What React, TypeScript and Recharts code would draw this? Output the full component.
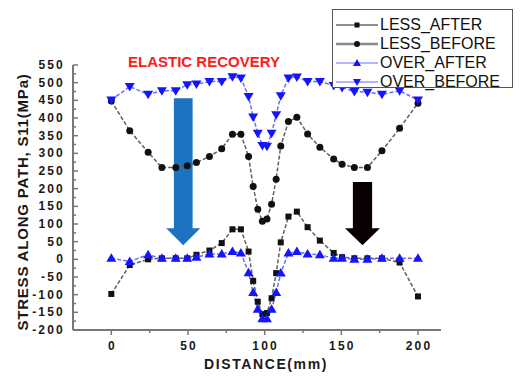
import React from 'react';
import { LineChart, Line, XAxis, YAxis, ReferenceArea } from 'recharts';

// distance along the path (mm)
const distance = [
  0, 12, 24, 33, 42, 49.5, 55.5, 64, 72, 79, 84.5, 89.5, 92.5, 95.5, 98.5,
  101.5, 104.5, 107.5, 110.5, 115.5, 121, 128, 136, 145, 150.5, 158.5, 167, 176.5, 188, 200,
];
const lessAfter = [
  -98, -16, 0, 3, 3, 3, 13, 25, 46, 85, 85, 22, -61, -120, -155,
  -152, -110, -39, 48, 121, 135, 91, 53, 18, 6, 3, 3, 3, -9, -105,
];
const lessBefore = [
  448, 364, 303, 260, 260, 265, 274, 291, 313, 354, 354, 291, 206, 142, 108,
  114, 156, 227, 321, 390, 402, 355, 317, 284, 269, 260, 260, 307, 371, 442,
];
const overAfter = [
  3, -6, 13, 3, 3, 3, 6, 15, 15, 22, 18, -38, -94, -141, -168,
  -168, -141, -94, -39, 18, 22, 15, 13, 3, 3, 0, 0, 3, 3, 3,
];
const overBefore = [
  451, 489, 467, 477, 477, 494, 496, 503, 503, 517, 513, 461, 403, 357, 322,
  320, 357, 409, 463, 513, 516, 503, 503, 492, 486, 475, 473, 467, 477, 451,
];

const xTicks = [0, 25, 50, 75, 100, 125, 150, 175, 200];
const yTicks = [
  -200, -175, -150, -125, -100, -75, -50, -25, 0, 25, 50, 75, 100, 125, 150, 175,
  200, 225, 250, 275, 300, 325, 350, 375, 400, 425, 450, 475, 500, 525, 550,
];

const data = distance.map((d, i) => ({
  distance: d,
  lessAfter: lessAfter[i],
  lessBefore: lessBefore[i],
  overAfter: overAfter[i],
  overBefore: overBefore[i],
}));

const axisColor = '#777';
const labelColor = '#1a1a1a';
const blue = '#1414ff';
const blueLine = '#6a6aff';
const font = 'Arial, "Liberation Sans", sans-serif';

const YTick = (props: any) => {
  const { x, y, payload } = props;
  const major = payload.value % 50 === 0;
  return (
    <g>
      <line x1={x} x2={x + (major ? 5 : 3)} y1={y} y2={y} stroke={axisColor} strokeWidth={1.5} />
      {major && (
        <text x={x - 8} y={y + 4} textAnchor="end" fontSize={12} fontWeight="bold"
          letterSpacing={2.2} fill={labelColor} fontFamily={font}>
          {payload.value}
        </text>
      )}
    </g>
  );
};

const XTick = (props: any) => {
  const { x, y, payload } = props;
  const major = payload.value % 50 === 0;
  return (
    <g>
      <line x1={x} x2={x} y1={y} y2={y + (major ? 5 : 3)} stroke={axisColor} strokeWidth={1.5} />
      {major && (
        <text x={x + 1} y={y + 20} textAnchor="middle" fontSize={12} fontWeight="bold"
          letterSpacing={2.2} fill={labelColor} fontFamily={font}>
          {payload.value}
        </text>
      )}
    </g>
  );
};

const SquareDot = (props: any) => {
  const { cx, cy } = props;
  if (cx == null || cy == null) return <g />;
  return <rect x={cx - 3} y={cy - 3} width={6} height={6} fill="#111" />;
};
const CircleDot = (props: any) => {
  const { cx, cy } = props;
  if (cx == null || cy == null) return <g />;
  return <circle cx={cx} cy={cy} r={3.5} fill="#111" />;
};
const UpDot = (props: any) => {
  const { cx, cy } = props;
  if (cx == null || cy == null) return <g />;
  return <polygon points={`${cx},${cy - 5} ${cx + 5},${cy + 3.5} ${cx - 5},${cy + 3.5}`} fill={blue} />;
};
const DownDot = (props: any) => {
  const { cx, cy } = props;
  if (cx == null || cy == null) return <g />;
  return <polygon points={`${cx},${cy + 5} ${cx + 5},${cy - 3.5} ${cx - 5},${cy - 3.5}`} fill={blue} />;
};

const arrowShape = (color: string) => (props: any) => {
  const { x, y, width, height } = props;
  if (x == null) return <g />;
  const head = 17;
  const shaft = width * 0.55;
  const cx = x + width / 2;
  const pts = [
    [cx - shaft / 2, y],
    [cx + shaft / 2, y],
    [cx + shaft / 2, y + height - head],
    [x + width, y + height - head],
    [cx, y + height],
    [x, y + height - head],
    [cx - shaft / 2, y + height - head],
  ]
    .map((p) => p.join(','))
    .join(' ');
  return <polygon points={pts} fill={color} />;
};

const legendItems = [
  { name: 'LESS_AFTER', color: '#222', width: 1, mark: 'square' },
  { name: 'LESS_BEFORE', color: '#888', width: 2.5, mark: 'circle' },
  { name: 'OVER_AFTER', color: blueLine, width: 1, mark: 'up' },
  { name: 'OVER_BEFORE', color: blueLine, width: 1, mark: 'down' },
];

const LegendMark = ({ mark }: { mark: string }) => {
  const cx = 22;
  const cy = 9;
  if (mark === 'square') return <rect x={cx - 2.5} y={cy - 2.5} width={5} height={5} fill="#111" />;
  if (mark === 'circle') return <circle cx={cx} cy={cy} r={3} fill="#111" />;
  if (mark === 'up') return <polygon points={`${cx},${cy - 4} ${cx + 4},${cy + 3} ${cx - 4},${cy + 3}`} fill={blue} />;
  return <polygon points={`${cx},${cy + 4} ${cx + 4},${cy - 3} ${cx - 4},${cy - 3}`} fill={blue} />;
};

export default function App() {
  return (
    <div style={{ position: 'absolute', left: 0, top: 0, width: 520, height: 376, background: '#fff', fontFamily: font }}>
      <LineChart width={520} height={376} data={data} margin={{ top: 65, right: 79, bottom: 16, left: 0 }}>
        <XAxis
          dataKey="distance"
          type="number"
          domain={[-25, 215]}
          ticks={xTicks}
          interval={0}
          height={30}
          tick={<XTick />}
          tickLine={false}
          tickSize={0}
          tickMargin={0}
          axisLine={{ stroke: axisColor, strokeWidth: 2 }}
          allowDataOverflow
        />
        <YAxis
          type="number"
          domain={[-200, 550]}
          ticks={yTicks}
          interval={0}
          width={73}
          tick={<YTick />}
          tickLine={false}
          tickSize={0}
          tickMargin={0}
          axisLine={{ stroke: axisColor, strokeWidth: 2 }}
          allowDataOverflow
        />
        <ReferenceArea x1={35.8} x2={58} y1={40} y2={456} shape={arrowShape('#1b73c2')} ifOverflow="visible" />
        <ReferenceArea x1={152.4} x2={175.2} y1={40} y2={219} shape={arrowShape('#080000')} ifOverflow="visible" />
        <Line dataKey="lessAfter" stroke="#606060" strokeWidth={1.5} strokeDasharray="4 2" dot={<SquareDot />} isAnimationActive={false} />
        <Line dataKey="lessBefore" stroke="#606060" strokeWidth={1.5} strokeDasharray="4 2" dot={<CircleDot />} isAnimationActive={false} />
        <Line dataKey="overAfter" stroke={blueLine} strokeWidth={1.5} strokeDasharray="4 2" dot={<UpDot />} isAnimationActive={false} />
        <Line dataKey="overBefore" stroke={blueLine} strokeWidth={1.5} strokeDasharray="4 2" dot={<DownDot />} isAnimationActive={false} />
      </LineChart>

      <div style={{ position: 'absolute', left: 128, top: 53, width: 145, textAlign: 'center', color: '#ff1a1a', fontWeight: 'bold', fontSize: 15, whiteSpace: 'nowrap' }}>
        ELASTIC RECOVERY
      </div>

      <div
        style={{
          position: 'absolute', left: 14, top: 202, width: 0, height: 0,
        }}
      >
        <div style={{ position: 'absolute', transform: 'translate(-50%, -50%) rotate(-90deg)', left: 8, top: 0, whiteSpace: 'nowrap', fontWeight: 'bold', fontSize: 15, letterSpacing: 0.8, color: labelColor }}>
          STRESS ALONG PATH, S11(MPa)
        </div>
      </div>

      <div style={{ position: 'absolute', left: 166, top: 356, width: 200, textAlign: 'center', fontWeight: 'bold', fontSize: 14, letterSpacing: 1.6, color: labelColor }}>
        DISTANCE(mm)
      </div>

      <div style={{ position: 'absolute', left: 332, top: 9, width: 181, height: 79, boxSizing: 'border-box', border: '1px solid #555', background: '#fff', padding: '5px 0 0 2px' }}>
        {legendItems.map((it) => (
          <div key={it.name} style={{ display: 'flex', alignItems: 'center', height: 19 }}>
            <svg width={44} height={18}>
              <line x1={1} x2={43} y1={9} y2={9} stroke={it.color} strokeWidth={it.width} />
              <LegendMark mark={it.mark} />
            </svg>
            <span style={{ fontSize: 16, color: '#111', marginLeft: 1, lineHeight: '18px' }}>{it.name}</span>
          </div>
        ))}
      </div>
    </div>
  );
}
